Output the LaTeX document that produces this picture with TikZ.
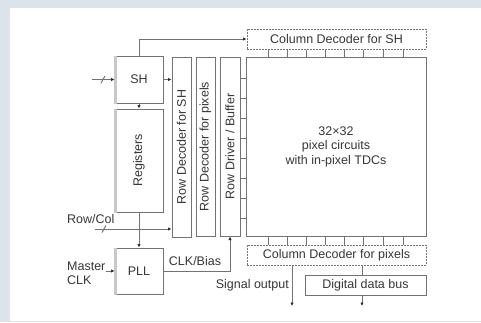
\documentclass[tikz,border=0pt]{standalone}
\usepackage{fontspec}
\usepackage{graphicx}
\setmainfont{Liberation Sans}
\usetikzlibrary{arrows.meta}
\definecolor{bgblue}{RGB}{221,227,234}
\definecolor{linegray}{RGB}{115,115,115}
\definecolor{txt}{RGB}{55,55,55}
\definecolor{edgegray}{RGB}{200,200,200}
\begin{document}
\begin{tikzpicture}[x=1pt,y=-1pt,
  blk/.style={draw=linegray, line width=1pt, fill=white, inner sep=0pt,
    text=txt, font=\fontsize{12.5}{14.5}\selectfont, align=center},
  dotblk/.style={blk, dash pattern=on 2pt off 1pt},
  conn/.style={draw=linegray, line width=1pt},
  arr/.style={conn, -{Latex[length=3.5pt,width=3.5pt,color=black!85]}},
  lbl/.style={text=txt, font=\fontsize{12.5}{13.5}\selectfont, inner sep=0pt, align=left},
  shade/.style={draw=edgegray, line width=3pt}]
\useasboundingbox (0,0) rectangle (481,322);
\fill[bgblue] (0,0) rectangle (481,322);
\fill[white] (10,8) rectangle (481,321);

% blocks
\node[dotblk, minimum width=179pt, minimum height=20pt] (colsh) at (336.5,39) {Column Decoder for SH};
\node[blk, minimum width=180pt, minimum height=179pt] (pix) at (336,146.5) {32×32\\pixel circuits\\with in-pixel TDCs};
\node[blk, minimum width=19pt, minimum height=180pt] (rdsh) at (181.5,147) {\rotatebox{90}{Row Decoder for SH}};
\node[blk, minimum width=19pt, minimum height=179pt] (rdpx) at (205.5,146.5) {\rotatebox{90}{Row Decoder for pixels}};
\node[blk, minimum width=20pt, minimum height=179pt] (rdrv) at (230,146.5) {\rotatebox{90}{Row Driver / Buffer}};
\node[blk, minimum width=48pt, minimum height=47pt] (sh) at (139,79.5) {SH};
\node[blk, minimum width=48pt, minimum height=103pt] (reg) at (139,160.5) {\rotatebox{90}{Registers}};
\node[blk, minimum width=48pt, minimum height=46pt] (pll) at (139,271) {PLL};
\node[dotblk, minimum width=179pt, minimum height=20pt] (colpx) at (336.5,255) {Column Decoder for pixels};
\node[blk, minimum width=121pt, minimum height=20pt] (bus) at (365.5,285) {Digital data bus};

% light left edges
\draw[shade] ([xshift=1pt]sh.north west) -- ([xshift=1pt]sh.south west);
\draw[shade] ([xshift=1pt]reg.north west) -- ([xshift=1pt]reg.south west);
\draw[shade] ([xshift=1pt]pll.north west) -- ([xshift=1pt]pll.south west);

% labels
\node[lbl, anchor=west] (rclbl) at (67,219) {Row/Col};
\node[lbl, anchor=west] (mclk) at (67,273.5) {Master\\CLK};
\node[lbl, anchor=south] (clklbl) at (195,266) {CLK/Bias};
\node[lbl, anchor=east] (siglbl) at (289,285) {Signal output};

% ticks between decoders and pixel array
\foreach \x in {268,287,306,325,344,363,383,403}{
  \draw[conn] (\x,0 |- colsh.south) -- (\x,0 |- pix.north);
  \draw[conn] (\x,0 |- pix.south) -- (\x,0 |- colpx.north);
}
\foreach \y in {78,98,118,138,158,178,198,218}{
  \draw[conn] (rdrv.east |- 0,\y) -- (pix.west |- 0,\y);
}

% connectors
\draw[arr] (sh.north) -- (sh.north |- colsh.west) -- (colsh.west);
\coordinate (shin) at (92,79.5);
\draw[arr] (shin) -- (sh.west);
\draw[conn] (101,83) -- (105,76);
\draw[arr] (sh.east) -- (sh.east -| rdsh.west);
\draw[arr] (sh.south) -- (reg.north);
\draw[arr] (reg.south) -- (pll.north);
\coordinate (rcin) at (95,229);
\draw[arr] (rcin) -- (rcin -| rdsh.west);
\draw[conn] (102,232.5) -- (106,225.5);
\draw[arr] (mclk.east |- pll.west) -- (pll.west);
\draw[arr] (pll.east) -| (rdrv.south);
\coordinate (sigout) at (292,306);
\draw[arr] (colpx.south -| sigout) -- (sigout);
\coordinate (busout) at (362,306);
\draw[conn] (colpx.south -| busout) -- (bus.north -| busout);
\draw[arr] (bus.south -| busout) -- (busout);
\end{tikzpicture}
\end{document}
